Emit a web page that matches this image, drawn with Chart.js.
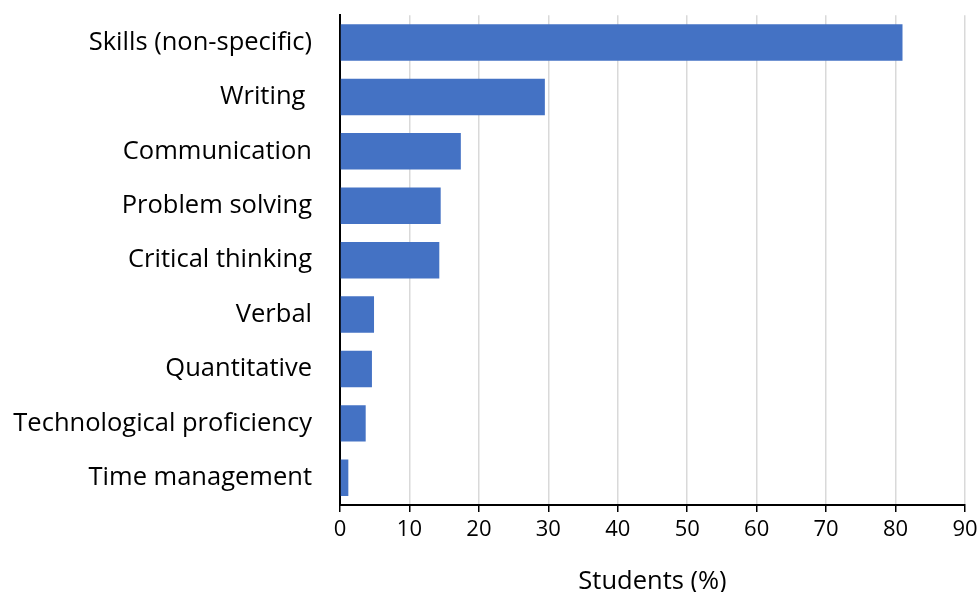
<!DOCTYPE html>
<html lang="en">
<head>
    <meta charset="UTF-8" />
    <title>Students (%)</title>
    <script src="https://cdn.jsdelivr.net/npm/chart.js"></script>
    <style>
        html, body { margin: 0; padding: 0; background: #fff; }
        #wrap { width: 978px; height: 592px; }
    </style>
</head>
<body>

<div id="wrap"><canvas id="skillsChart"></canvas></div>

<script>
    // categories and values
    const categories = [
        'Skills (non-specific)',
        'Writing ',
        'Communication',
        'Problem solving',
        'Critical thinking',
        'Verbal',
        'Quantitative',
        'Technological proficiency',
        'Time management'
    ];
    const studentPct = [81, 29.5, 17.4, 14.5, 14.3, 4.9, 4.6, 3.7, 1.2];
    const xTicks = [0, 10, 20, 30, 40, 50, 60, 70, 80, 90];

    const fontFamily = "'Open Sans', sans-serif";

    const ctx = document.getElementById('skillsChart').getContext('2d');
    new Chart(ctx, {
        type: 'bar',
        data: {
            labels: categories,
            datasets: [{
                data: studentPct,
                backgroundColor: '#4472C4',
                borderWidth: 0,
                categoryPercentage: 1,
                barPercentage: 0.67
            }]
        },
        options: {
            indexAxis: 'y',
            responsive: true,
            maintainAspectRatio: false,
            animation: false,
            layout: { padding: { top: 14, right: 13, left: 0, bottom: 0 } },
            plugins: {
                legend: { display: false },
                tooltip: { enabled: false }
            },
            scales: {
                x: {
                    min: 0,
                    max: 90,
                    afterBuildTicks: axis => { axis.ticks = xTicks.map(v => ({ value: v })); },
                    grid: {
                        color: '#d9d9d9',
                        lineWidth: 1.5,
                        tickColor: '#000',
                        tickLength: 7
                    },
                    border: { color: '#000', width: 2 },
                    ticks: {
                        color: '#000',
                        padding: 5,
                        maxRotation: 0,
                        font: { family: fontFamily, size: 22 }
                    },
                    title: {
                        display: true,
                        text: 'Students (%)',
                        color: '#000',
                        padding: { top: 0, bottom: -5 },
                        font: { family: fontFamily, size: 25.5 }
                    },
                    afterFit: scale => {
                        scale.height = 87;
                        // let the "90" label hang into the right margin
                        scale.paddingRight = 0;
                    }
                },
                y: {
                    // invisible tick marks keep the labels 28px off the axis
                    grid: {
                        drawOnChartArea: false,
                        color: 'rgba(0,0,0,0)',
                        tickColor: 'rgba(0,0,0,0)',
                        tickLength: 28
                    },
                    border: { color: '#000', width: 2 },
                    ticks: {
                        color: '#000',
                        padding: 0,
                        font: { family: fontFamily, size: 25.5 }
                    },
                    afterFit: scale => { scale.width = 340; }
                }
            }
        }
    });
</script>

</body>
</html>
